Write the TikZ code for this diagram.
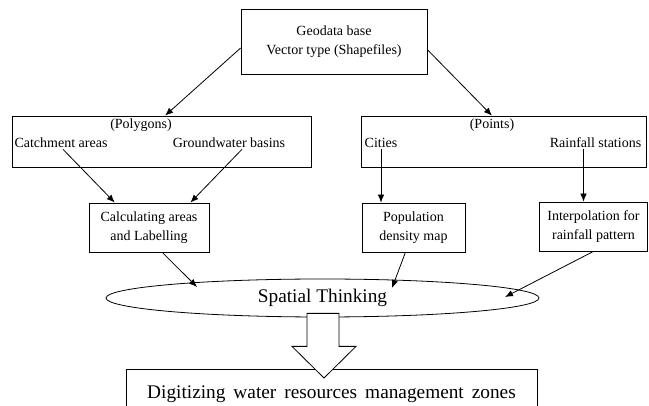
\documentclass[tikz,border=0pt]{standalone}
\usepackage{fontspec}
\setmainfont{Liberation Serif}
\usetikzlibrary{arrows.meta,shapes.geometric,calc}

\begin{document}
\begin{tikzpicture}[x=1pt, y=-1pt, line width=0.8pt,
    box/.style={draw, rectangle, inner sep=0pt, align=center,
      font=\fontsize{14}{19}\selectfont},
    lbl/.style={inner sep=1pt, font=\fontsize{14}{17}\selectfont},
    arr/.style={-{Latex[length=8pt,width=6.5pt]}}]

        \useasboundingbox (0,0) rectangle (649,406);

        % source box
        \node[box, minimum width=186pt, minimum height=65pt] (geo) at (334,41.5)
          {Geodata base\\Vector type (Shapefiles)};

        % polygons
        \node[box, minimum width=299pt, minimum height=51pt] (poly) at (161.5,141.5) {};
        \node[lbl] (polylbl) at (141,125) {(Polygons)};
        \node[lbl] (catch) at (61,143) {Catchment areas};
        \node[lbl] (ground) at (229,143) {Groundwater basins};

        % points
        \node[box, minimum width=285pt, minimum height=51pt] (pts) at (503.5,141.5) {};
        \node[lbl] (ptslbl) at (492,125) {(Points)};
        \node[lbl] (cities) at (381,143) {Cities};
        \node[lbl] (rain) at (595.5,143) {Rainfall stations};

        % second row
        \node[box, minimum width=120pt, minimum height=49pt] (calc) at (149,227.5)
          {Calculating areas\\and Labelling};
        \node[box, minimum width=103pt, minimum height=49pt] (pop) at (413.5,227.5)
          {Population\\density map};
        \node[box, minimum width=108pt, minimum height=49pt] (interp) at (593.5,226.5)
          {Interpolation for\\rainfall pattern};

        \node[draw, ellipse, inner sep=0pt, minimum width=433pt, minimum height=38pt,
          font=\fontsize{19.3}{22}\selectfont] (think) at (322.5,298) {Spatial Thinking};

        \node[box, anchor=north, minimum width=411pt, minimum height=50pt,
          font=\fontsize{19.3}{22}\selectfont] (zones) at (331.5,369)
          {\spaceskip=8pt\relax Digitizing water resources management zones};

        \draw[arr] (geo.184) -- (poly.82);
        \draw[arr] (geo.-5) -- (pts.114);

        \draw[arr] ([xshift=2pt]catch.south) -- (calc.144);
        \draw[arr] ([xshift=13pt]ground.south) -- (calc.31);
        \draw[arr] (cities.south) -- (cities.south |- pop.north);
        \draw[arr] ([xshift=-12pt]rain.south) -- ([xshift=-12pt]rain.south |- interp.north);

        \draw[arr] (calc.-62) -- ($(think.center)+(-125.5,-11)$);
        \draw[arr] (pop.-108) -- ($(think.center)+(69.5,-10)$);
        \draw[arr] (interp.south) -- ($(think.center)+(182.5,-1)$);

        \draw[fill=white] ($(think.south)+(-15.5,-4)$) -- ++(32,0) -- ++(0,33)
          -- ++(17,0) -- ($(zones.north)+(-7.5,9)$) -- ($(think.south)+(-30.5,29)$)
          -- ++(15,0) -- cycle;

      \end{tikzpicture}
\end{document}
